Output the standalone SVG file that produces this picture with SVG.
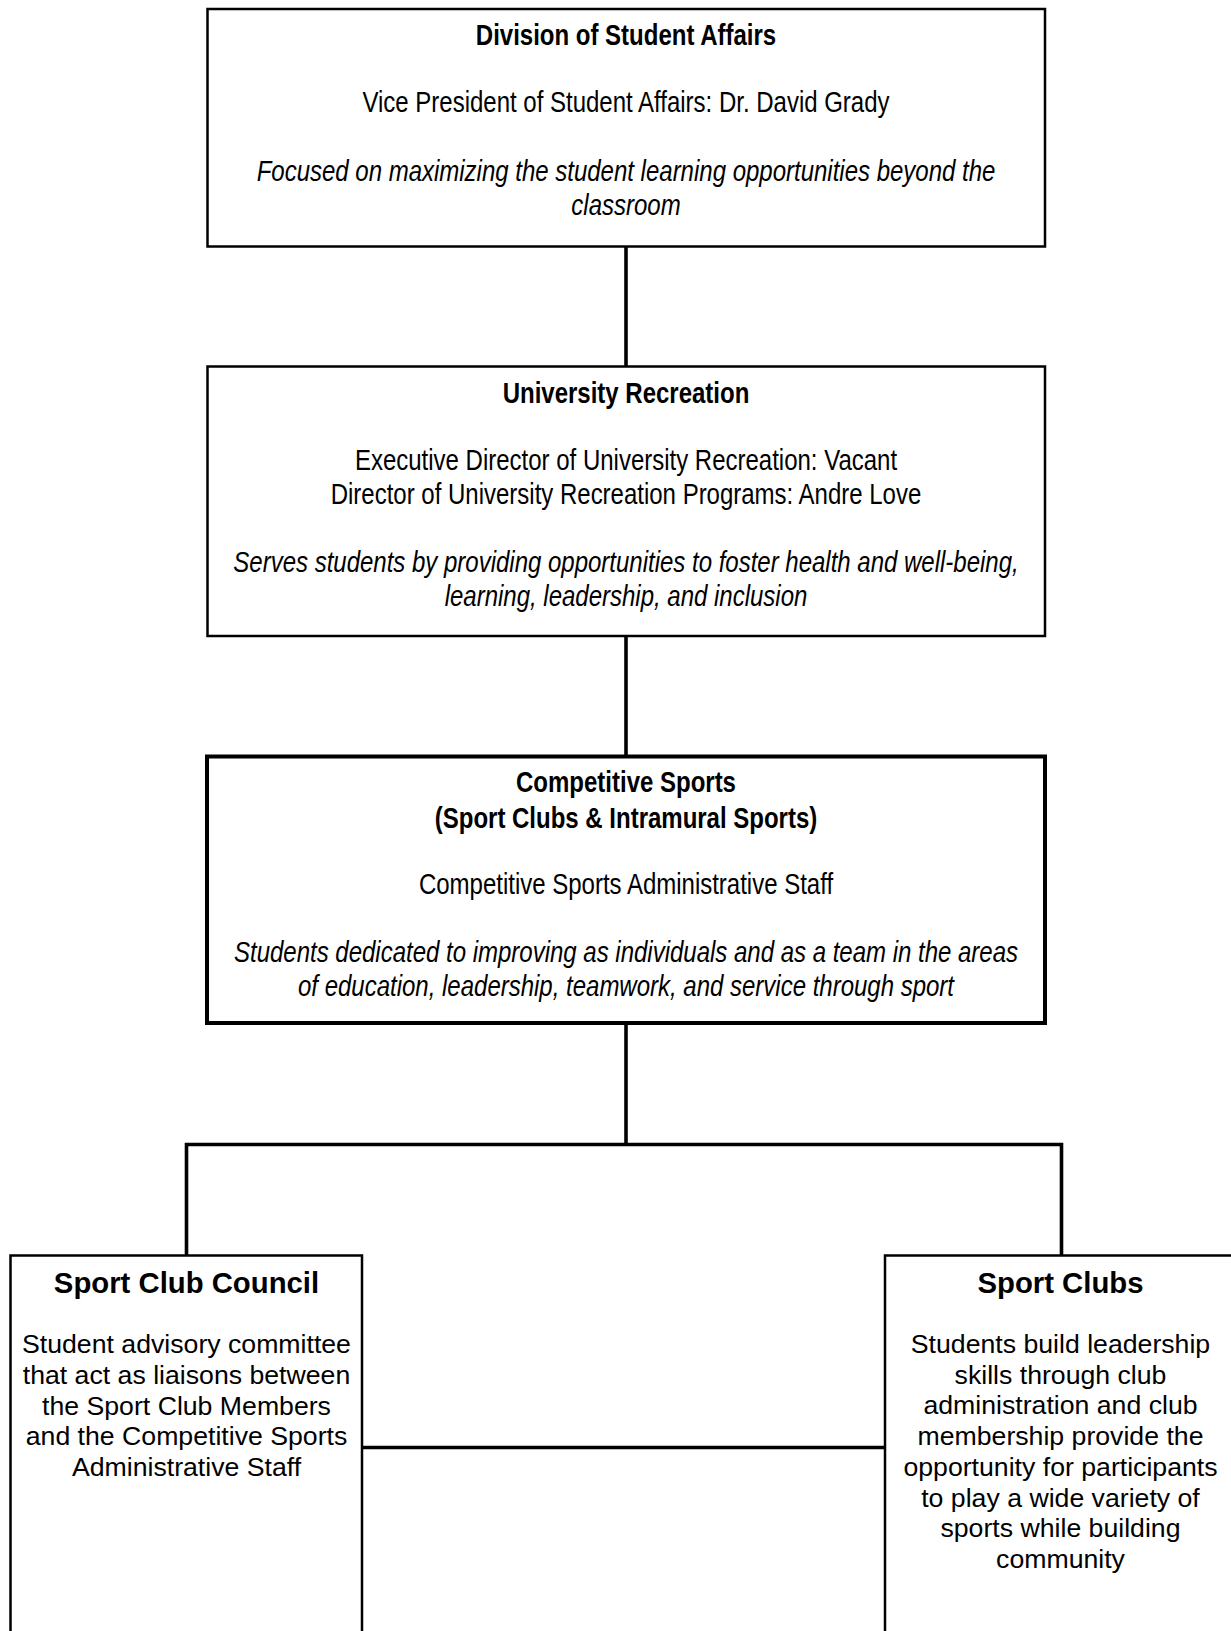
<svg xmlns="http://www.w3.org/2000/svg" width="1231" height="1631" viewBox="0 0 1231 1631">
<style>
.box{fill:#fff;stroke:#000;stroke-width:2.5}
.thick{fill:#fff;stroke:#000;stroke-width:4}
.conn{fill:none;stroke:#000;stroke-width:3.6;stroke-linecap:butt}
.n{font-family:"Liberation Sans",Arial,sans-serif;font-size:24px;fill:#000;text-anchor:middle}
.b{font-weight:bold}
.i{font-style:italic}
.t{font-family:"Liberation Sans",Arial,sans-serif;font-size:29.3px;font-weight:bold;fill:#000;text-anchor:middle}
.p{font-family:"Liberation Sans",Arial,sans-serif;font-size:26.67px;fill:#000;text-anchor:middle}
</style>
<rect width="1231" height="1631" fill="#fff"/>
<g id="connectors">
<path class="conn" d="M626,246.5 V366.5"/>
<path class="conn" d="M626,636 V756.5"/>
<path class="conn" d="M626,1023 V1144.5"/>
<path class="conn" d="M186.5,1256 V1144.5 H1061.5 V1256"/>
<path class="conn" d="M362,1447.5 H885"/>
</g>
<g id="student-affairs">
<rect class="box" x="207.5" y="9" width="837.5" height="237.5"/>
<text class="n b" transform="translate(626,45) scale(1,1.2208)">Division of Student Affairs</text>
<text class="n" transform="translate(626,111.5) scale(1,1.2208)">Vice President of Student Affairs: Dr. David Grady</text>
<text class="n i" transform="translate(626,181) scale(1,1.2208)">Focused on maximizing the student learning opportunities beyond the</text>
<text class="n i" transform="translate(626,215) scale(1,1.2208)">classroom</text>
</g>
<g id="university-recreation">
<rect class="box" x="207.5" y="366.5" width="837.5" height="269.5"/>
<text class="n b" transform="translate(626,403.3) scale(1,1.2208)">University Recreation</text>
<text class="n" transform="translate(626,470) scale(1,1.2208)">Executive Director of University Recreation: Vacant</text>
<text class="n" transform="translate(626,504) scale(1,1.2208)">Director of University Recreation Programs: Andre Love</text>
<text class="n i" transform="translate(626,572.3) scale(1,1.2208)">Serves students by providing opportunities to foster health and well-being,</text>
<text class="n i" transform="translate(626,606) scale(1,1.2208)">learning, leadership, and inclusion</text>
</g>
<g id="competitive-sports">
<rect class="thick" x="207" y="756.5" width="838" height="266.5"/>
<text class="n b" transform="translate(626,792) scale(1,1.2208)">Competitive Sports</text>
<text class="n b" transform="translate(626,828) scale(1,1.2208)">(Sport Clubs &amp; Intramural Sports)</text>
<text class="n" transform="translate(626,893.5) scale(1,1.2208)">Competitive Sports Administrative Staff</text>
<text class="n i" transform="translate(626,962) scale(1,1.2208)">Students dedicated to improving as individuals and as a team in the areas</text>
<text class="n i" transform="translate(626,996) scale(1,1.2208)">of education, leadership, teamwork, and service through sport</text>
</g>
<g id="sport-club-council">
<rect class="box" x="10.5" y="1255.5" width="351.5" height="500"/>
<text class="t" x="186.5" y="1292.7">Sport Club Council</text>
<text class="p" x="186.5" y="1353.3">Student advisory committee</text>
<text class="p" x="186.5" y="1384">that act as liaisons between</text>
<text class="p" x="186.5" y="1414.7">the Sport Club Members</text>
<text class="p" x="186.5" y="1445.4">and the Competitive Sports</text>
<text class="p" x="186.5" y="1476">Administrative Staff</text>
</g>
<g id="sport-clubs">
<rect class="box" x="885" y="1255.5" width="400" height="500"/>
<text class="t" x="1060.5" y="1292.7">Sport Clubs</text>
<text class="p" x="1060.5" y="1353">Students build leadership</text>
<text class="p" x="1060.5" y="1383.7">skills through club</text>
<text class="p" x="1060.5" y="1414.4">administration and club</text>
<text class="p" x="1060.5" y="1445.1">membership provide the</text>
<text class="p" x="1060.5" y="1475.8">opportunity for participants</text>
<text class="p" x="1060.5" y="1506.5">to play a wide variety of</text>
<text class="p" x="1060.5" y="1537.2">sports while building</text>
<text class="p" x="1060.5" y="1567.9">community</text>
</g>
</svg>
